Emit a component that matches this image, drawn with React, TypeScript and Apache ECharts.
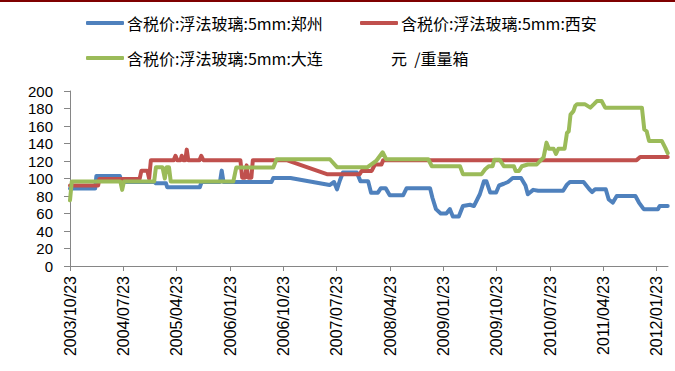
import React, { useEffect, useRef } from 'react';
import * as echarts from 'echarts';

const seriesNames = ['含税价:浮法玻璃:5mm:郑州', '含税价:浮法玻璃:5mm:西安', '含税价:浮法玻璃:5mm:大连'];
const unitLabel = '元  /重量箱';
const seriesColors = ['#4F81BD', '#C0504D', '#9BBB59'];

// x tick labels, one every 9 months starting 2003/10/23
const tickLabels = [
  '2003/10/23', '2004/07/23', '2005/04/23', '2006/01/23', '2006/10/23', '2007/07/23',
  '2008/04/23', '2009/01/23', '2009/10/23', '2010/07/23', '2011/04/23', '2012/01/23',
];
const tickMonths = [0, 9, 18, 27, 36, 45, 54, 63, 72, 81, 90, 99];

// [months after 2003/10/23, price]
const zhengzhou: [number, number][] = [
  [0, 88.5], [4.25, 88.5], [4.45, 103], [8.4, 103], [8.7, 96], [14.2, 96], [14.5, 94.5],
  [16.2, 94.5], [16.4, 90], [21.9, 90], [22.2, 96], [25.3, 96], [25.6, 109], [25.9, 96],
  [34.0, 96], [34.3, 100.5], [37.2, 100.5], [43.8, 92.5], [44.55, 96], [45.05, 87.6],
  [45.55, 98], [46.05, 106.8], [48.4, 106.8], [49.0, 97], [50.3, 97], [50.8, 83.8],
  [51.95, 83.8], [52.45, 89], [53.25, 89], [53.95, 80.8], [56.2, 80.8], [56.8, 89],
  [60.75, 89], [61.15, 78], [61.75, 65], [62.55, 60], [63.5, 60], [64.1, 65], [64.6, 56.5],
  [65.6, 56.5], [66.3, 68.5], [67.5, 70], [68.15, 68.5], [69.15, 82], [69.85, 97],
  [70.25, 97], [70.9, 84], [71.9, 84], [72.4, 92], [73.2, 94], [73.9, 96], [74.7, 100.5],
  [76.1, 100.5], [76.85, 92], [77.25, 82], [78.15, 87], [79.0, 86], [83.2, 86],
  [83.85, 93], [84.35, 96], [86.65, 96], [87.6, 88], [88.1, 84.5], [88.6, 87.6],
  [90.4, 87.6], [90.9, 76], [91.6, 72.5], [92.25, 80], [95.4, 80], [96.0, 72.5],
  [96.8, 65], [99.2, 65], [99.5, 68.5], [100.85, 68.5],
];

const xian: [number, number][] = [
  [0, 92], [4.75, 92], [4.95, 99.5], [11.75, 99.5], [12.05, 109], [13.05, 109], [13.35, 100],
  [13.65, 121], [17.5, 121], [17.8, 126], [18.1, 121], [18.65, 121], [18.85, 126],
  [19.15, 121], [19.45, 121], [19.7, 133], [19.95, 121], [21.85, 121], [22.15, 126],
  [22.5, 121], [28.75, 121], [29.05, 101], [29.55, 101], [29.8, 115], [30.05, 101],
  [30.6, 101], [30.85, 121], [36.55, 121], [43.35, 105], [48.9, 105], [49.2, 108.6],
  [50.9, 108.6], [51.45, 116], [52.55, 116], [52.85, 121], [95.6, 121], [96.2, 124.5],
  [100.85, 124.5],
];

const dalian: [number, number][] = [
  [0, 75], [0.3, 96.5], [8.5, 96.5], [8.8, 87], [9.1, 96.5], [14.2, 96.5], [14.5, 113],
  [15.6, 113], [16.0, 100], [16.3, 113], [16.7, 113], [17.0, 96.5], [27.55, 96.5],
  [28.05, 112.5], [34.3, 112.5], [34.85, 122], [43.85, 122], [45.05, 113], [50.2, 113],
  [51.65, 120], [52.75, 130], [53.35, 122], [60.45, 122], [61.05, 114], [65.8, 114],
  [66.3, 105], [69.45, 105], [70.05, 110.5], [70.65, 114], [71.3, 114], [71.6, 121.5],
  [72.5, 121.5], [73.2, 114], [74.9, 114], [75.2, 108.6], [75.75, 108.6], [76.25, 114],
  [77.25, 116], [78.75, 116], [79.3, 120], [79.9, 124], [80.4, 141], [80.8, 134],
  [81.6, 134], [82.0, 128], [82.4, 134], [83.45, 134], [83.85, 152], [84.15, 154],
  [84.45, 173], [84.95, 177], [85.25, 183], [85.55, 185], [86.85, 185], [87.8, 181],
  [88.4, 185], [88.9, 188.5], [89.7, 188.5], [90.3, 181], [96.5, 181], [96.9, 156],
  [97.3, 154], [97.7, 143], [99.85, 143], [100.45, 135], [100.85, 129],
];

const seriesData = [zhengzhou, xian, dalian];

const CJK = '"Noto Sans CJK SC", "Noto Sans", sans-serif';
const LATIN = '"Liberation Sans", Arial, sans-serif';

export default function App() {
  const ref = useRef<HTMLDivElement>(null);

  useEffect(() => {
    document.body.style.margin = '0';
    if (!ref.current) return;
    const chart = echarts.init(ref.current, undefined, { renderer: 'svg' });

    const legendPos = [
      { left: 86, top: 15 },
      { left: 360, top: 15 },
      { left: 86, top: 50 },
    ];

    chart.setOption({
      animation: false,
      backgroundColor: '#fff',
      grid: { left: 70, right: 7, top: 91, bottom: 105, containLabel: false },
      legend: seriesNames.map((n, i) => ({
        data: [n],
        left: legendPos[i].left,
        top: legendPos[i].top,
        padding: 0,
        itemWidth: 38,
        itemHeight: 4,
        icon: 'roundRect',
        itemGap: 0,
        selectedMode: false,
        textStyle: { fontSize: 16, fontFamily: CJK, color: '#000', padding: [0, 0, 0, -2] },
      })),
      graphic: [
        { type: 'rect', left: 0, top: 0, shape: { x: 0, y: 0, width: 675, height: 2 }, style: { fill: '#7F0000' } },
        {
          type: 'text',
          x: 391,
          y: 58,
          style: { text: unitLabel, fontSize: 16, fontFamily: CJK, fill: '#000', verticalAlign: 'middle' },
        },
      ],
      xAxis: {
        type: 'value',
        min: 0,
        max: 100.9,
        interval: 9,
        splitLine: { show: false },
        axisLine: { show: true, lineStyle: { color: '#868686', width: 1 } },
        axisTick: { show: true, length: 5, lineStyle: { color: '#868686' }, customValues: tickMonths },
        axisLabel: {
          rotate: 90,
          margin: 10,
          fontSize: 16,
          fontFamily: LATIN,
          color: '#000',
          customValues: tickMonths,
          formatter: (v: number) => {
            const i = tickMonths.findIndex((t) => Math.abs(t - v) < 1e-6);
            return i >= 0 ? tickLabels[i] : '';
          },
        },
      },
      yAxis: {
        type: 'value',
        min: 0,
        max: 200,
        interval: 20,
        splitLine: { show: false },
        axisLine: { show: true, lineStyle: { color: '#868686', width: 1 } },
        axisTick: { show: true, length: 6, lineStyle: { color: '#868686' } },
        axisLabel: { fontSize: 15, fontFamily: LATIN, color: '#000', margin: 17 },
      },
      series: seriesNames.map((n, i) => ({
        name: n,
        type: 'line',
        data: seriesData[i],
        symbol: 'none',
        showSymbol: false,
        color: seriesColors[i],
        lineStyle: { width: 4, color: seriesColors[i], join: 'round', cap: 'round' },
      })),
    });

    return () => chart.dispose();
  }, []);

  return <div ref={ref} style={{ width: 675, height: 371 }} />;
}
